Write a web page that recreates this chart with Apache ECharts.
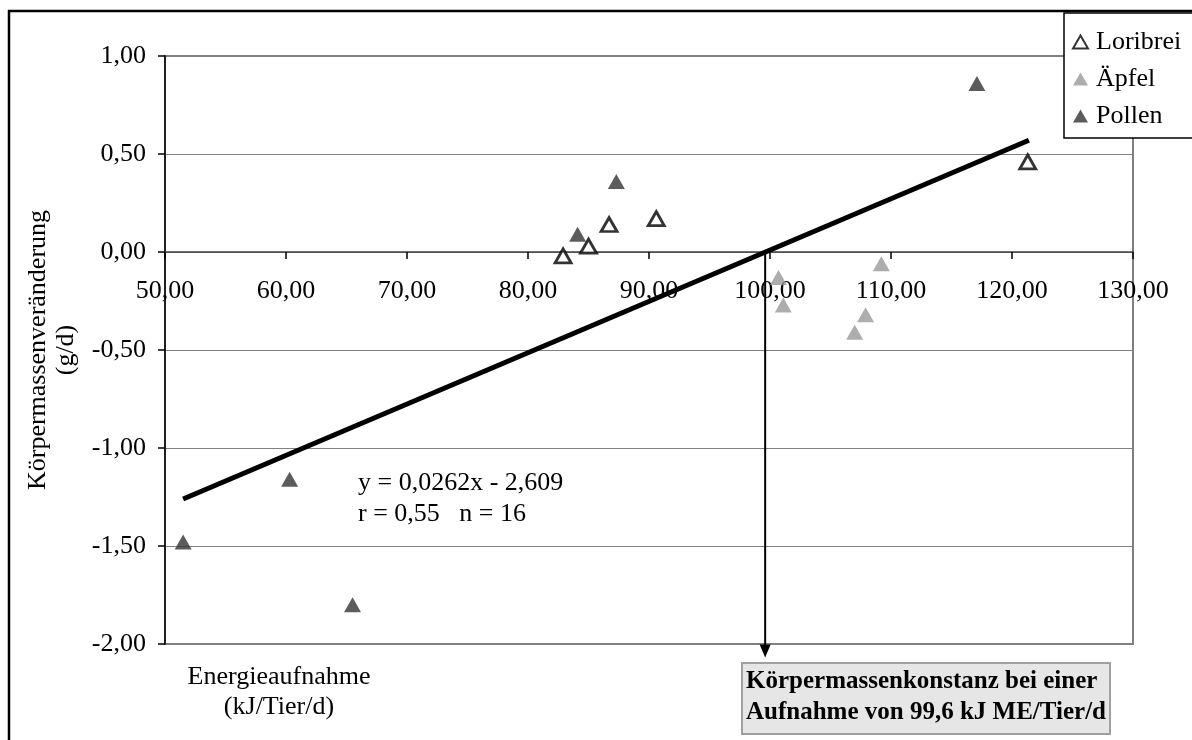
<!DOCTYPE html>
<html>
<head>
<meta charset="utf-8">
<script src="https://cdn.jsdelivr.net/npm/echarts@6/dist/echarts.min.js"></script>
<style>
html,body{margin:0;padding:0;background:#fff;}
#c{width:1192px;height:740px;}
</style>
</head>
<body>
<div id="c"></div>
<script>
// ---- data ----
const loribrei = [[82.9, -0.02], [85.0, 0.03], [86.7, 0.14], [90.6, 0.17], [121.3, 0.46]];
const aepfel = [[100.7, -0.13], [101.1, -0.27], [107.0, -0.41], [107.9, -0.32], [109.2, -0.06]];
const pollen = [[51.5, -1.48], [60.3, -1.16], [65.5, -1.80], [84.1, 0.09], [87.3, 0.36], [117.1, 0.86]];
const trendLine = [[51.5, -1.26], [121.4, 0.57]];
const arrowLine = [[99.6, 0], [99.6, -2.036]];
const xTickLabels = ['50,00', '60,00', '70,00', '80,00', '90,00', '100,00', '110,00', '120,00', '130,00'];
const yTickLabels = { '-2': '-2,00', '-1.5': '-1,50', '-1': '-1,00', '-0.5': '-0,50', '0': '0,00', '0.5': '0,50', '1': '1,00' };
const seriesNames = ['Loribrei', 'Äpfel', 'Pollen'];
const equationText = 'y = 0,0262x - 2,609\nr = 0,55   n = 16';
const xTitle = 'Energieaufnahme\n(kJ/Tier/d)';
const yTitle = 'Körpermassenveränderung\n(g/d)';
const noteText = 'Körpermassenkonstanz bei einer\nAufnahme von 99,6 kJ ME/Tier/d';

const FF = 'Liberation Serif';
const FS = 26;
const chart = echarts.init(document.getElementById('c'), null, { renderer: 'canvas' });

const option = {
  backgroundColor: '#fff',
  animation: false,
  textStyle: { fontFamily: FF },
  graphic: [{
    type: 'rect', silent: true, z: 100,
    shape: { x: 9, y: 11, width: 1300, height: 900 },
    style: { fill: 'none', stroke: '#000', lineWidth: 2.5 }
  }],
  title: [
    { text: equationText, left: 358, top: 468, padding: 0,
      textStyle: { fontFamily: FF, fontSize: FS, fontWeight: 'normal', color: '#000', lineHeight: 31 } },
    { text: xTitle, left: 279, top: 662, textAlign: 'center', padding: 0,
      textStyle: { fontFamily: FF, fontSize: FS, fontWeight: 'normal', color: '#000', lineHeight: 30, align: 'center' } },
    { text: noteText, left: 742, top: 663, padding: [3, 4, 6, 4],
      backgroundColor: '#e6e6e6', borderColor: '#a0a0a0', borderWidth: 2,
      textStyle: { fontFamily: FF, fontSize: 25, fontWeight: 'bold', color: '#000', lineHeight: 31 } }
  ],
  legend: {
    data: seriesNames,
    orient: 'vertical', left: 1064, top: 13,
    padding: [16, 40, 9, 8],
    itemGap: 11, itemWidth: 15, itemHeight: 13,
    borderColor: '#000', borderWidth: 1.5, backgroundColor: '#fff',
    textStyle: { fontFamily: FF, fontSize: FS, color: '#000', padding: [0, 0, 0, 3] }
  },
  grid: [
    { left: 165, top: 56, width: 968, height: 588, show: true, borderColor: '#808080', borderWidth: 2, containLabel: false },
    { left: 165, top: 200, width: 968, height: 52, show: false, containLabel: false }
  ],
  xAxis: [
    { type: 'value', gridIndex: 0, min: 50, max: 130, interval: 10,
      axisLine: { show: true, onZero: true, lineStyle: { color: '#404040', width: 1.5 } },
      axisTick: { show: true, inside: false, length: 7, lineStyle: { color: '#000', width: 1.5 } },
      axisLabel: { show: false },
      splitLine: { show: false } },
    { type: 'value', gridIndex: 1, min: 50, max: 130, interval: 10, position: 'bottom',
      axisLine: { show: false, onZero: false }, axisTick: { show: false }, splitLine: { show: false },
      axisLabel: { show: true, margin: 26, fontFamily: FF, fontSize: FS, color: '#000',
        showMinLabel: true, showMaxLabel: true,
        formatter: v => xTickLabels[Math.round((v - 50) / 10)] } }
  ],
  yAxis: [
    { type: 'value', gridIndex: 0, min: -2, max: 1, interval: 0.5,
      name: yTitle, nameLocation: 'middle', nameRotate: 90, nameGap: 85,
      nameTextStyle: { fontFamily: FF, fontSize: FS, color: '#000', lineHeight: 28, align: 'center' },
      axisLine: { show: true, onZero: false, lineStyle: { color: '#000', width: 1.5 } },
      axisTick: { show: true, inside: false, length: 7, lineStyle: { color: '#000', width: 1.5 } },
      axisLabel: { margin: 19, fontFamily: FF, fontSize: FS, color: '#000',
        formatter: v => yTickLabels[String(v)] },
      splitLine: { show: true, lineStyle: { color: '#808080', width: 1.2 } } },
    { type: 'value', gridIndex: 1, min: 0, max: 1, show: false }
  ],
  series: [
    { name: 'Trend', type: 'line', data: trendLine,
      symbol: 'none', lineStyle: { color: '#000', width: 5 }, z: 3, silent: true },
    { name: 'Arrow', type: 'line', clip: false,
      data: [
        { value: arrowLine[0], symbol: 'none' },
        { value: arrowLine[1], symbol: 'triangle', symbolSize: [11, 13], symbolRotate: 180 }
      ],
      showSymbol: true, showAllSymbol: true,
      itemStyle: { color: '#000' },
      lineStyle: { color: '#000', width: 2 }, z: 3, silent: true },
    { name: 'Pollen', type: 'scatter', data: pollen, symbol: 'triangle', symbolSize: [17, 15],
      itemStyle: { color: '#333333' }, z: 4 },
    { name: 'Äpfel', type: 'scatter', data: aepfel, symbol: 'triangle', symbolSize: [17, 15],
      itemStyle: { color: '#999999' }, z: 5 },
    { name: 'Loribrei', type: 'scatter', data: loribrei, symbol: 'triangle', symbolSize: [16, 14],
      itemStyle: { color: '#ffffff', borderColor: '#000', borderWidth: 2.8 }, z: 6 }
  ]
};
chart.setOption(option);
</script>
</body>
</html>
